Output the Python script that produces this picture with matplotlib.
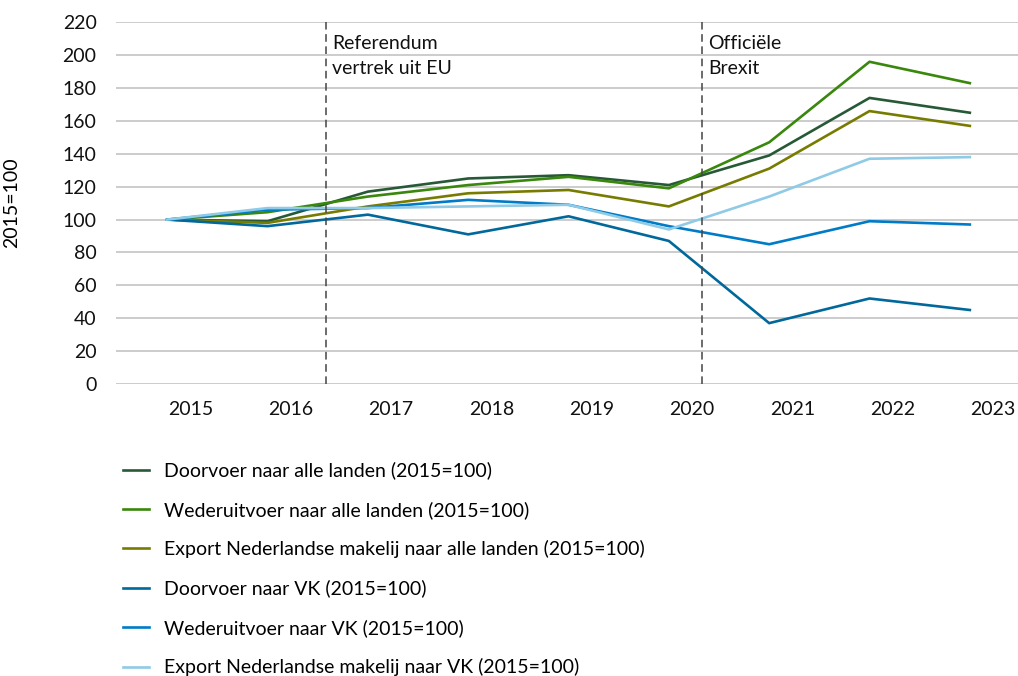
import matplotlib.pyplot as plt

plt.rcParams['font.family'] = ['Lato', 'DejaVu Sans']

# data
years = ["2015", "2016", "2017", "2018", "2019", "2020", "2021", "2022", "2023"]
doorvoer_alle = [100, 99, 117, 125, 127, 121, 139, 174, 165]
wederuitvoer_alle = [100, 104.5, 114, 121, 126, 119, 147, 196, 183]
export_alle = [100, 98, 108, 116, 118, 108, 131, 166, 157]
doorvoer_vk = [100, 96, 103, 91, 102, 87, 37, 52, 45]
wederuitvoer_vk = [100, 106, 107, 112, 109, 96, 85, 99, 97]
export_vk = [100, 107, 107, 108, 109, 94, 114, 137, 138]

series = [
    ("Doorvoer naar alle landen (2015=100)", doorvoer_alle, "#275937"),
    ("Wederuitvoer naar alle landen (2015=100)", wederuitvoer_alle, "#39870c"),
    ("Export Nederlandse makelij naar alle landen (2015=100)", export_alle, "#777c00"),
    ("Doorvoer naar VK (2015=100)", doorvoer_vk, "#01689b"),
    ("Wederuitvoer naar VK (2015=100)", wederuitvoer_vk, "#007bc7"),
    ("Export Nederlandse makelij naar VK (2015=100)", export_vk, "#8fcae7"),
]

fig = plt.figure(figsize=(10.18, 6.76), dpi=100)
ax = fig.add_axes([0.114, 0.432, 0.886, 0.535])

x = list(range(len(years)))
for label, vals, color in series:
    ax.plot(x, vals, color=color, lw=1.9, label=label)

ax.set_ylim(0, 220)
ax.set_yticks(range(0, 221, 20))
ax.set_xlim(-0.51, 8.48)
ax.set_xticks([i + 0.23 for i in x])
ax.set_xticklabels(years)
ax.grid(axis='y', color='#c8c8c8', lw=1.3)
ax.set_axisbelow(True)
for s in ax.spines.values():
    s.set_visible(False)
ax.tick_params(length=0, labelsize=14, colors='#111111')
ax.tick_params(axis='x', pad=12)
ax.tick_params(axis='y', pad=14)
ax.set_ylabel("2015=100", fontsize=14)
ax.yaxis.set_label_coords(-0.106, 0.5)

# vertical markers
events = [(1.585, "Referendum\nvertrek uit EU"), (5.33, "Officiële\nBrexit")]
for xpos, txt in events:
    ax.axvline(xpos, color='#444444', lw=1.1, ls=(0, (5, 3)))
    ax.text(xpos + 0.06, 212.5, txt, fontsize=14, va='top', ha='left',
            linespacing=1.6, color='#111111')

fig.legend(loc='upper left', bbox_to_anchor=(0.104, 0.343), frameon=False,
           fontsize=14, labelspacing=1.1, handlelength=1.3, handletextpad=0.8)

fig.savefig("out.png", dpi=100)
